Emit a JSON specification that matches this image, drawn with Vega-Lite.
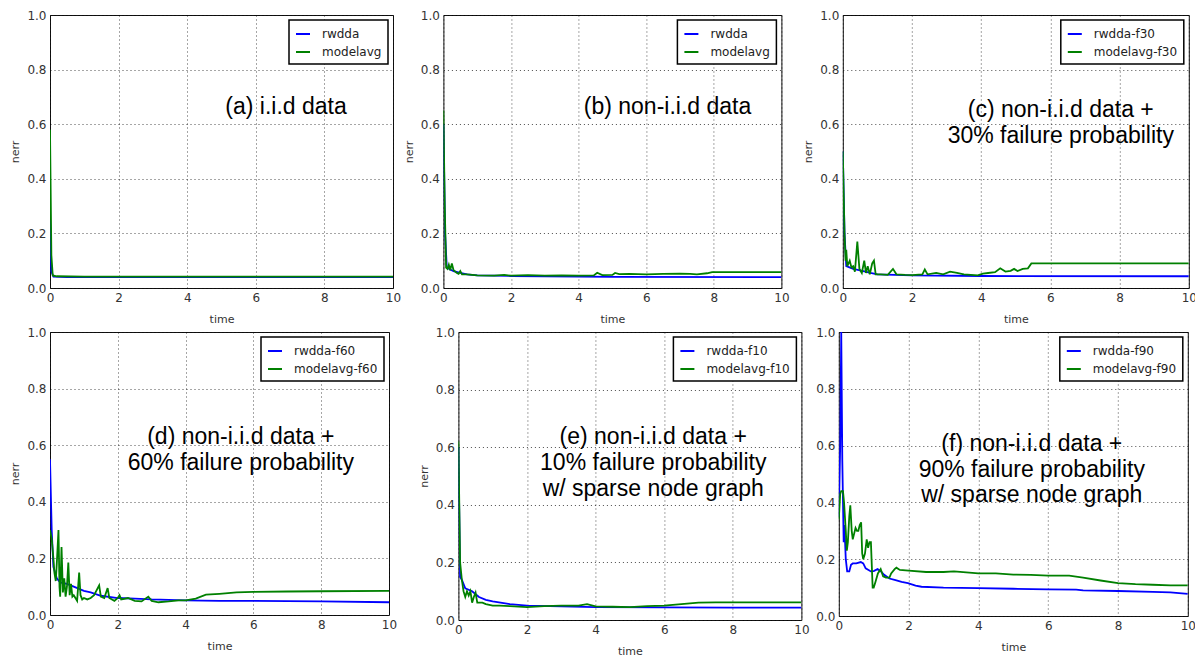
{
"$schema":"https://vega.github.io/schema/vega-lite/v6.json",
"background":"white",
"padding":{"left":9,"top":8,"right":5,"bottom":5},
"config":{
 "view":{"stroke":"#111","strokeWidth":1},
 "axis":{"labelFont":"DejaVu Sans","labelFontSize":12,"labelColor":"#333","titleFont":"DejaVu Sans","titleFontSize":11,"titleFontWeight":"normal","titleColor":"#333","grid":true,"gridColor":"#000","gridDash":[1,3],"gridOpacity":0.7,"gridWidth":1,"domain":false,"ticks":false,"labelPadding":4,"labelFlush":false,"labelOverlap":false,"titlePadding":6},
 "axisX":{"titlePadding":10},
 "legend":{"orient":"top-right","offset":5,"title":null,"strokeColor":"#000","strokeWidth":1.5,"fillColor":"#fff","padding":6,"rowPadding":4,"symbolType":"stroke","symbolStrokeWidth":2,"symbolSize":196,"labelFont":"DejaVu Sans","labelFontSize":12,"labelColor":"#222","labelOffset":11}
},
"datasets":{
"notes":[
 {"p":"a","t":6.88,"v":0.639,"text":"(a) i.i.d data"},
 {"p":"b","t":6.63,"v":0.639,"text":"(b) non-i.i.d data"},
 {"p":"c","t":6.3,"v":0.626,"text":"(c) non-i.i.d data +"},
 {"p":"c","t":6.3,"v":0.532,"text":"30% failure probability"},
 {"p":"d","t":5.63,"v":0.604,"text":"(d) non-i.i.d data +"},
 {"p":"d","t":5.63,"v":0.513,"text":"60% failure probability"},
 {"p":"e","t":5.68,"v":0.61,"text":"(e) non-i.i.d data +"},
 {"p":"e","t":5.68,"v":0.521,"text":"10% failure probability"},
 {"p":"e","t":5.68,"v":0.432,"text":"w/ sparse node graph"},
 {"p":"f","t":5.53,"v":0.58,"text":"(f) non-i.i.d data +"},
 {"p":"f","t":5.53,"v":0.49,"text":"90% failure probability"},
 {"p":"f","t":5.53,"v":0.4,"text":"w/ sparse node graph"}
],
"lines":[
 {"p":"a","s":"rwdda","t":0,"v":0.25},{"p":"a","s":"rwdda","t":0.04,"v":0.06},{"p":"a","s":"rwdda","t":0.1,"v":0.042},{"p":"a","s":"rwdda","t":0.5,"v":0.04},{"p":"a","s":"rwdda","t":5,"v":0.04},{"p":"a","s":"rwdda","t":10,"v":0.04},
 {"p":"a","s":"modelavg","t":0,"v":0.58},{"p":"a","s":"modelavg","t":0.04,"v":0.12},{"p":"a","s":"modelavg","t":0.08,"v":0.046},{"p":"a","s":"modelavg","t":0.2,"v":0.043},{"p":"a","s":"modelavg","t":1,"v":0.042},{"p":"a","s":"modelavg","t":10,"v":0.042},

 {"p":"b","s":"rwdda","t":0,"v":0.6},{"p":"b","s":"rwdda","t":0.05,"v":0.2},{"p":"b","s":"rwdda","t":0.1,"v":0.075},{"p":"b","s":"rwdda","t":0.2,"v":0.068},{"p":"b","s":"rwdda","t":0.3,"v":0.062},{"p":"b","s":"rwdda","t":0.5,"v":0.055},{"p":"b","s":"rwdda","t":0.7,"v":0.05},{"p":"b","s":"rwdda","t":1,"v":0.046},{"p":"b","s":"rwdda","t":2,"v":0.044},{"p":"b","s":"rwdda","t":3,"v":0.043},{"p":"b","s":"rwdda","t":5,"v":0.041},{"p":"b","s":"rwdda","t":10,"v":0.04},
 {"p":"b","s":"modelavg","t":0,"v":0.65},{"p":"b","s":"modelavg","t":0.04,"v":0.3},{"p":"b","s":"modelavg","t":0.08,"v":0.075},{"p":"b","s":"modelavg","t":0.12,"v":0.07},{"p":"b","s":"modelavg","t":0.16,"v":0.085},{"p":"b","s":"modelavg","t":0.2,"v":0.065},{"p":"b","s":"modelavg","t":0.25,"v":0.09},{"p":"b","s":"modelavg","t":0.3,"v":0.065},{"p":"b","s":"modelavg","t":0.4,"v":0.055},{"p":"b","s":"modelavg","t":0.45,"v":0.052},{"p":"b","s":"modelavg","t":0.5,"v":0.062},{"p":"b","s":"modelavg","t":0.55,"v":0.05},{"p":"b","s":"modelavg","t":0.7,"v":0.05},{"p":"b","s":"modelavg","t":1,"v":0.046},{"p":"b","s":"modelavg","t":1.5,"v":0.045},{"p":"b","s":"modelavg","t":1.8,"v":0.048},{"p":"b","s":"modelavg","t":2,"v":0.045},{"p":"b","s":"modelavg","t":2.5,"v":0.047},{"p":"b","s":"modelavg","t":3,"v":0.045},{"p":"b","s":"modelavg","t":3.5,"v":0.046},{"p":"b","s":"modelavg","t":4,"v":0.045},{"p":"b","s":"modelavg","t":4.45,"v":0.046},{"p":"b","s":"modelavg","t":4.55,"v":0.056},{"p":"b","s":"modelavg","t":4.7,"v":0.047},{"p":"b","s":"modelavg","t":5,"v":0.048},{"p":"b","s":"modelavg","t":5.08,"v":0.055},{"p":"b","s":"modelavg","t":5.2,"v":0.051},{"p":"b","s":"modelavg","t":5.5,"v":0.052},{"p":"b","s":"modelavg","t":6,"v":0.05},{"p":"b","s":"modelavg","t":6.5,"v":0.052},{"p":"b","s":"modelavg","t":7,"v":0.053},{"p":"b","s":"modelavg","t":7.3,"v":0.052},{"p":"b","s":"modelavg","t":7.5,"v":0.05},{"p":"b","s":"modelavg","t":7.8,"v":0.054},{"p":"b","s":"modelavg","t":7.95,"v":0.058},{"p":"b","s":"modelavg","t":10,"v":0.058},

 {"p":"c","s":"rwdda-f30","t":0,"v":0.5},{"p":"c","s":"rwdda-f30","t":0.05,"v":0.2},{"p":"c","s":"rwdda-f30","t":0.1,"v":0.08},{"p":"c","s":"rwdda-f30","t":0.3,"v":0.07},{"p":"c","s":"rwdda-f30","t":0.5,"v":0.065},{"p":"c","s":"rwdda-f30","t":0.8,"v":0.055},{"p":"c","s":"rwdda-f30","t":1,"v":0.05},{"p":"c","s":"rwdda-f30","t":2,"v":0.046},{"p":"c","s":"rwdda-f30","t":4,"v":0.044},{"p":"c","s":"rwdda-f30","t":10,"v":0.043},
 {"p":"c","s":"modelavg-f30","t":0,"v":0.5},{"p":"c","s":"modelavg-f30","t":0.05,"v":0.2},{"p":"c","s":"modelavg-f30","t":0.08,"v":0.1},{"p":"c","s":"modelavg-f30","t":0.1,"v":0.14},{"p":"c","s":"modelavg-f30","t":0.13,"v":0.08},{"p":"c","s":"modelavg-f30","t":0.2,"v":0.1},{"p":"c","s":"modelavg-f30","t":0.25,"v":0.075},{"p":"c","s":"modelavg-f30","t":0.3,"v":0.08},{"p":"c","s":"modelavg-f30","t":0.35,"v":0.06},{"p":"c","s":"modelavg-f30","t":0.42,"v":0.17},{"p":"c","s":"modelavg-f30","t":0.48,"v":0.07},{"p":"c","s":"modelavg-f30","t":0.55,"v":0.055},{"p":"c","s":"modelavg-f30","t":0.62,"v":0.1},{"p":"c","s":"modelavg-f30","t":0.67,"v":0.055},{"p":"c","s":"modelavg-f30","t":0.72,"v":0.08},{"p":"c","s":"modelavg-f30","t":0.78,"v":0.05},{"p":"c","s":"modelavg-f30","t":0.85,"v":0.09},{"p":"c","s":"modelavg-f30","t":0.9,"v":0.1},{"p":"c","s":"modelavg-f30","t":0.95,"v":0.05},{"p":"c","s":"modelavg-f30","t":1.1,"v":0.05},{"p":"c","s":"modelavg-f30","t":1.3,"v":0.048},{"p":"c","s":"modelavg-f30","t":1.45,"v":0.07},{"p":"c","s":"modelavg-f30","t":1.55,"v":0.05},{"p":"c","s":"modelavg-f30","t":1.8,"v":0.048},{"p":"c","s":"modelavg-f30","t":2,"v":0.047},{"p":"c","s":"modelavg-f30","t":2.3,"v":0.05},{"p":"c","s":"modelavg-f30","t":2.37,"v":0.068},{"p":"c","s":"modelavg-f30","t":2.45,"v":0.05},{"p":"c","s":"modelavg-f30","t":2.7,"v":0.055},{"p":"c","s":"modelavg-f30","t":2.9,"v":0.05},{"p":"c","s":"modelavg-f30","t":3.1,"v":0.06},{"p":"c","s":"modelavg-f30","t":3.3,"v":0.055},{"p":"c","s":"modelavg-f30","t":3.5,"v":0.05},{"p":"c","s":"modelavg-f30","t":3.7,"v":0.048},{"p":"c","s":"modelavg-f30","t":3.9,"v":0.046},{"p":"c","s":"modelavg-f30","t":4.05,"v":0.053},{"p":"c","s":"modelavg-f30","t":4.2,"v":0.055},{"p":"c","s":"modelavg-f30","t":4.4,"v":0.058},{"p":"c","s":"modelavg-f30","t":4.55,"v":0.072},{"p":"c","s":"modelavg-f30","t":4.7,"v":0.06},{"p":"c","s":"modelavg-f30","t":4.85,"v":0.063},{"p":"c","s":"modelavg-f30","t":4.95,"v":0.07},{"p":"c","s":"modelavg-f30","t":5.05,"v":0.062},{"p":"c","s":"modelavg-f30","t":5.2,"v":0.07},{"p":"c","s":"modelavg-f30","t":5.35,"v":0.072},{"p":"c","s":"modelavg-f30","t":5.45,"v":0.09},{"p":"c","s":"modelavg-f30","t":10,"v":0.09},

 {"p":"d","s":"rwdda-f60","t":0,"v":0.55},{"p":"d","s":"rwdda-f60","t":0.05,"v":0.3},{"p":"d","s":"rwdda-f60","t":0.1,"v":0.17},{"p":"d","s":"rwdda-f60","t":0.2,"v":0.13},{"p":"d","s":"rwdda-f60","t":0.3,"v":0.115},{"p":"d","s":"rwdda-f60","t":0.5,"v":0.11},{"p":"d","s":"rwdda-f60","t":0.7,"v":0.1},{"p":"d","s":"rwdda-f60","t":1,"v":0.085},{"p":"d","s":"rwdda-f60","t":1.2,"v":0.08},{"p":"d","s":"rwdda-f60","t":1.5,"v":0.068},{"p":"d","s":"rwdda-f60","t":2,"v":0.06},{"p":"d","s":"rwdda-f60","t":2.5,"v":0.058},{"p":"d","s":"rwdda-f60","t":3,"v":0.055},{"p":"d","s":"rwdda-f60","t":4,"v":0.052},{"p":"d","s":"rwdda-f60","t":5,"v":0.05},{"p":"d","s":"rwdda-f60","t":6,"v":0.05},{"p":"d","s":"rwdda-f60","t":8,"v":0.048},{"p":"d","s":"rwdda-f60","t":10,"v":0.045},
 {"p":"d","s":"modelavg-f60","t":0,"v":0.3},{"p":"d","s":"modelavg-f60","t":0.05,"v":0.27},{"p":"d","s":"modelavg-f60","t":0.1,"v":0.2},{"p":"d","s":"modelavg-f60","t":0.13,"v":0.15},{"p":"d","s":"modelavg-f60","t":0.17,"v":0.12},{"p":"d","s":"modelavg-f60","t":0.2,"v":0.18},{"p":"d","s":"modelavg-f60","t":0.25,"v":0.3},{"p":"d","s":"modelavg-f60","t":0.28,"v":0.1},{"p":"d","s":"modelavg-f60","t":0.3,"v":0.065},{"p":"d","s":"modelavg-f60","t":0.34,"v":0.24},{"p":"d","s":"modelavg-f60","t":0.38,"v":0.08},{"p":"d","s":"modelavg-f60","t":0.42,"v":0.13},{"p":"d","s":"modelavg-f60","t":0.46,"v":0.065},{"p":"d","s":"modelavg-f60","t":0.5,"v":0.1},{"p":"d","s":"modelavg-f60","t":0.54,"v":0.185},{"p":"d","s":"modelavg-f60","t":0.58,"v":0.07},{"p":"d","s":"modelavg-f60","t":0.62,"v":0.11},{"p":"d","s":"modelavg-f60","t":0.66,"v":0.065},{"p":"d","s":"modelavg-f60","t":0.7,"v":0.07},{"p":"d","s":"modelavg-f60","t":0.75,"v":0.06},{"p":"d","s":"modelavg-f60","t":0.8,"v":0.05},{"p":"d","s":"modelavg-f60","t":0.86,"v":0.15},{"p":"d","s":"modelavg-f60","t":0.9,"v":0.07},{"p":"d","s":"modelavg-f60","t":0.95,"v":0.055},{"p":"d","s":"modelavg-f60","t":1,"v":0.06},{"p":"d","s":"modelavg-f60","t":1.1,"v":0.055},{"p":"d","s":"modelavg-f60","t":1.2,"v":0.06},{"p":"d","s":"modelavg-f60","t":1.3,"v":0.07},{"p":"d","s":"modelavg-f60","t":1.45,"v":0.105},{"p":"d","s":"modelavg-f60","t":1.5,"v":0.065},{"p":"d","s":"modelavg-f60","t":1.6,"v":0.06},{"p":"d","s":"modelavg-f60","t":1.7,"v":0.095},{"p":"d","s":"modelavg-f60","t":1.75,"v":0.06},{"p":"d","s":"modelavg-f60","t":1.9,"v":0.05},{"p":"d","s":"modelavg-f60","t":2,"v":0.06},{"p":"d","s":"modelavg-f60","t":2.05,"v":0.07},{"p":"d","s":"modelavg-f60","t":2.1,"v":0.055},{"p":"d","s":"modelavg-f60","t":2.3,"v":0.06},{"p":"d","s":"modelavg-f60","t":2.5,"v":0.05},{"p":"d","s":"modelavg-f60","t":2.7,"v":0.048},{"p":"d","s":"modelavg-f60","t":2.9,"v":0.065},{"p":"d","s":"modelavg-f60","t":3,"v":0.05},{"p":"d","s":"modelavg-f60","t":3.2,"v":0.045},{"p":"d","s":"modelavg-f60","t":3.5,"v":0.048},{"p":"d","s":"modelavg-f60","t":3.8,"v":0.052},{"p":"d","s":"modelavg-f60","t":4,"v":0.052},{"p":"d","s":"modelavg-f60","t":4.3,"v":0.058},{"p":"d","s":"modelavg-f60","t":4.6,"v":0.072},{"p":"d","s":"modelavg-f60","t":5,"v":0.075},{"p":"d","s":"modelavg-f60","t":5.5,"v":0.08},{"p":"d","s":"modelavg-f60","t":6,"v":0.082},{"p":"d","s":"modelavg-f60","t":7,"v":0.083},{"p":"d","s":"modelavg-f60","t":8,"v":0.084},{"p":"d","s":"modelavg-f60","t":10,"v":0.085},

 {"p":"e","s":"rwdda-f10","t":0,"v":0.6},{"p":"e","s":"rwdda-f10","t":0.05,"v":0.15},{"p":"e","s":"rwdda-f10","t":0.1,"v":0.14},{"p":"e","s":"rwdda-f10","t":0.2,"v":0.11},{"p":"e","s":"rwdda-f10","t":0.4,"v":0.1},{"p":"e","s":"rwdda-f10","t":0.6,"v":0.08},{"p":"e","s":"rwdda-f10","t":0.8,"v":0.07},{"p":"e","s":"rwdda-f10","t":1,"v":0.065},{"p":"e","s":"rwdda-f10","t":1.5,"v":0.055},{"p":"e","s":"rwdda-f10","t":2,"v":0.05},{"p":"e","s":"rwdda-f10","t":3,"v":0.047},{"p":"e","s":"rwdda-f10","t":4,"v":0.045},{"p":"e","s":"rwdda-f10","t":6,"v":0.044},{"p":"e","s":"rwdda-f10","t":8,"v":0.043},{"p":"e","s":"rwdda-f10","t":10,"v":0.043},
 {"p":"e","s":"modelavg-f10","t":0,"v":0.62},{"p":"e","s":"modelavg-f10","t":0.05,"v":0.2},{"p":"e","s":"modelavg-f10","t":0.1,"v":0.14},{"p":"e","s":"modelavg-f10","t":0.15,"v":0.1},{"p":"e","s":"modelavg-f10","t":0.2,"v":0.08},{"p":"e","s":"modelavg-f10","t":0.25,"v":0.1},{"p":"e","s":"modelavg-f10","t":0.3,"v":0.085},{"p":"e","s":"modelavg-f10","t":0.35,"v":0.1},{"p":"e","s":"modelavg-f10","t":0.4,"v":0.06},{"p":"e","s":"modelavg-f10","t":0.45,"v":0.08},{"p":"e","s":"modelavg-f10","t":0.5,"v":0.095},{"p":"e","s":"modelavg-f10","t":0.55,"v":0.06},{"p":"e","s":"modelavg-f10","t":0.7,"v":0.06},{"p":"e","s":"modelavg-f10","t":0.8,"v":0.055},{"p":"e","s":"modelavg-f10","t":1,"v":0.05},{"p":"e","s":"modelavg-f10","t":1.2,"v":0.05},{"p":"e","s":"modelavg-f10","t":1.5,"v":0.048},{"p":"e","s":"modelavg-f10","t":2,"v":0.045},{"p":"e","s":"modelavg-f10","t":2.5,"v":0.048},{"p":"e","s":"modelavg-f10","t":3,"v":0.05},{"p":"e","s":"modelavg-f10","t":3.5,"v":0.05},{"p":"e","s":"modelavg-f10","t":3.75,"v":0.055},{"p":"e","s":"modelavg-f10","t":4,"v":0.047},{"p":"e","s":"modelavg-f10","t":4.5,"v":0.046},{"p":"e","s":"modelavg-f10","t":5,"v":0.045},{"p":"e","s":"modelavg-f10","t":5.5,"v":0.048},{"p":"e","s":"modelavg-f10","t":6,"v":0.05},{"p":"e","s":"modelavg-f10","t":6.5,"v":0.055},{"p":"e","s":"modelavg-f10","t":7,"v":0.06},{"p":"e","s":"modelavg-f10","t":7.5,"v":0.061},{"p":"e","s":"modelavg-f10","t":8,"v":0.061},{"p":"e","s":"modelavg-f10","t":10,"v":0.061},

 {"p":"f","s":"rwdda-f90","t":0,"v":0.35},{"p":"f","s":"rwdda-f90","t":0.04,"v":0.6},{"p":"f","s":"rwdda-f90","t":0.07,"v":1.0},{"p":"f","s":"rwdda-f90","t":0.1,"v":0.55},{"p":"f","s":"rwdda-f90","t":0.13,"v":0.33},{"p":"f","s":"rwdda-f90","t":0.14,"v":0.26},{"p":"f","s":"rwdda-f90","t":0.16,"v":0.32},{"p":"f","s":"rwdda-f90","t":0.18,"v":0.26},{"p":"f","s":"rwdda-f90","t":0.2,"v":0.2},{"p":"f","s":"rwdda-f90","t":0.24,"v":0.157},{"p":"f","s":"rwdda-f90","t":0.3,"v":0.157},{"p":"f","s":"rwdda-f90","t":0.35,"v":0.18},{"p":"f","s":"rwdda-f90","t":0.4,"v":0.185},{"p":"f","s":"rwdda-f90","t":0.5,"v":0.185},{"p":"f","s":"rwdda-f90","t":0.63,"v":0.19},{"p":"f","s":"rwdda-f90","t":0.7,"v":0.185},{"p":"f","s":"rwdda-f90","t":0.77,"v":0.168},{"p":"f","s":"rwdda-f90","t":0.92,"v":0.157},{"p":"f","s":"rwdda-f90","t":1,"v":0.158},{"p":"f","s":"rwdda-f90","t":1.11,"v":0.165},{"p":"f","s":"rwdda-f90","t":1.2,"v":0.158},{"p":"f","s":"rwdda-f90","t":1.3,"v":0.145},{"p":"f","s":"rwdda-f90","t":1.45,"v":0.132},{"p":"f","s":"rwdda-f90","t":1.6,"v":0.127},{"p":"f","s":"rwdda-f90","t":1.8,"v":0.12},{"p":"f","s":"rwdda-f90","t":1.98,"v":0.116},{"p":"f","s":"rwdda-f90","t":2.2,"v":0.107},{"p":"f","s":"rwdda-f90","t":2.37,"v":0.103},{"p":"f","s":"rwdda-f90","t":3,"v":0.1},{"p":"f","s":"rwdda-f90","t":4,"v":0.098},{"p":"f","s":"rwdda-f90","t":5,"v":0.096},{"p":"f","s":"rwdda-f90","t":6,"v":0.094},{"p":"f","s":"rwdda-f90","t":6.8,"v":0.093},{"p":"f","s":"rwdda-f90","t":7,"v":0.09},{"p":"f","s":"rwdda-f90","t":8,"v":0.088},{"p":"f","s":"rwdda-f90","t":9,"v":0.085},{"p":"f","s":"rwdda-f90","t":9.5,"v":0.083},{"p":"f","s":"rwdda-f90","t":10,"v":0.078},
 {"p":"f","s":"modelavg-f90","t":0,"v":0.34},{"p":"f","s":"modelavg-f90","t":0.04,"v":0.43},{"p":"f","s":"modelavg-f90","t":0.07,"v":0.44},{"p":"f","s":"modelavg-f90","t":0.12,"v":0.44},{"p":"f","s":"modelavg-f90","t":0.15,"v":0.4},{"p":"f","s":"modelavg-f90","t":0.2,"v":0.3},{"p":"f","s":"modelavg-f90","t":0.23,"v":0.23},{"p":"f","s":"modelavg-f90","t":0.26,"v":0.26},{"p":"f","s":"modelavg-f90","t":0.3,"v":0.35},{"p":"f","s":"modelavg-f90","t":0.33,"v":0.39},{"p":"f","s":"modelavg-f90","t":0.37,"v":0.3},{"p":"f","s":"modelavg-f90","t":0.4,"v":0.27},{"p":"f","s":"modelavg-f90","t":0.44,"v":0.29},{"p":"f","s":"modelavg-f90","t":0.48,"v":0.31},{"p":"f","s":"modelavg-f90","t":0.52,"v":0.3},{"p":"f","s":"modelavg-f90","t":0.56,"v":0.3},{"p":"f","s":"modelavg-f90","t":0.6,"v":0.32},{"p":"f","s":"modelavg-f90","t":0.64,"v":0.33},{"p":"f","s":"modelavg-f90","t":0.67,"v":0.22},{"p":"f","s":"modelavg-f90","t":0.7,"v":0.2},{"p":"f","s":"modelavg-f90","t":0.75,"v":0.22},{"p":"f","s":"modelavg-f90","t":0.8,"v":0.27},{"p":"f","s":"modelavg-f90","t":0.84,"v":0.24},{"p":"f","s":"modelavg-f90","t":0.88,"v":0.26},{"p":"f","s":"modelavg-f90","t":0.92,"v":0.26},{"p":"f","s":"modelavg-f90","t":0.97,"v":0.1},{"p":"f","s":"modelavg-f90","t":1,"v":0.1},{"p":"f","s":"modelavg-f90","t":1.05,"v":0.12},{"p":"f","s":"modelavg-f90","t":1.12,"v":0.15},{"p":"f","s":"modelavg-f90","t":1.2,"v":0.165},{"p":"f","s":"modelavg-f90","t":1.27,"v":0.14},{"p":"f","s":"modelavg-f90","t":1.35,"v":0.135},{"p":"f","s":"modelavg-f90","t":1.45,"v":0.135},{"p":"f","s":"modelavg-f90","t":1.5,"v":0.15},{"p":"f","s":"modelavg-f90","t":1.6,"v":0.165},{"p":"f","s":"modelavg-f90","t":1.65,"v":0.17},{"p":"f","s":"modelavg-f90","t":1.75,"v":0.162},{"p":"f","s":"modelavg-f90","t":2,"v":0.16},{"p":"f","s":"modelavg-f90","t":2.5,"v":0.155},{"p":"f","s":"modelavg-f90","t":3,"v":0.155},{"p":"f","s":"modelavg-f90","t":3.3,"v":0.157},{"p":"f","s":"modelavg-f90","t":4,"v":0.15},{"p":"f","s":"modelavg-f90","t":4.5,"v":0.15},{"p":"f","s":"modelavg-f90","t":5,"v":0.146},{"p":"f","s":"modelavg-f90","t":5.5,"v":0.145},{"p":"f","s":"modelavg-f90","t":6,"v":0.142},{"p":"f","s":"modelavg-f90","t":6.6,"v":0.142},{"p":"f","s":"modelavg-f90","t":7,"v":0.135},{"p":"f","s":"modelavg-f90","t":7.5,"v":0.125},{"p":"f","s":"modelavg-f90","t":8,"v":0.116},{"p":"f","s":"modelavg-f90","t":8.5,"v":0.112},{"p":"f","s":"modelavg-f90","t":9,"v":0.11},{"p":"f","s":"modelavg-f90","t":9.5,"v":0.108},{"p":"f","s":"modelavg-f90","t":10,"v":0.108}
]
},
"spacing":0,
"resolve":{"scale":{"color":"independent"},"legend":{"color":"independent"}},
"vconcat":[
 {"spacing":0.4,"resolve":{"scale":{"color":"independent"},"legend":{"color":"independent"}},
  "hconcat":[
  {"width":343,"height":273,"layer":[
   {"data":{"name":"lines"},"transform":[{"filter":"datum.p==='a'"}],"mark":{"type":"line","strokeWidth":1.8,"clip":true},
    "encoding":{"x":{"field":"t","type":"quantitative","scale":{"domain":[0,10],"nice":false},"axis":{"title":"time","values":[0,2,4,6,8,10]}},
     "y":{"field":"v","type":"quantitative","scale":{"domain":[0,1],"nice":false},"axis":{"title":"nerr","values":[0,0.2,0.4,0.6,0.8,1],"format":".1f"}},
     "color":{"field":"s","type":"nominal","scale":{"domain":["rwdda","modelavg"],"range":["#0000ff","#008000"]}}}},
   {"data":{"name":"notes"},"transform":[{"filter":"datum.p==='a'"}],"mark":{"type":"text","font":"Liberation Sans","fontSize":23,"baseline":"alphabetic","align":"center","color":"#000"},
    "encoding":{"x":{"field":"t","type":"quantitative"},"y":{"field":"v","type":"quantitative"},"text":{"field":"text"}}}
  ]},
  {"spacing":11.4,"resolve":{"scale":{"color":"independent"},"legend":{"color":"independent"}},
   "hconcat":[
   {"width":338,"height":273,"layer":[
    {"data":{"name":"lines"},"transform":[{"filter":"datum.p==='b'"}],"mark":{"type":"line","strokeWidth":1.8,"clip":true},
     "encoding":{"x":{"field":"t","type":"quantitative","scale":{"domain":[0,10],"nice":false},"axis":{"title":"time","values":[0,2,4,6,8,10]}},
      "y":{"field":"v","type":"quantitative","scale":{"domain":[0,1],"nice":false},"axis":{"title":"nerr","values":[0,0.2,0.4,0.6,0.8,1],"format":".1f"}},
      "color":{"field":"s","type":"nominal","scale":{"domain":["rwdda","modelavg"],"range":["#0000ff","#008000"]}}}},
    {"data":{"name":"notes"},"transform":[{"filter":"datum.p==='b'"}],"mark":{"type":"text","font":"Liberation Sans","fontSize":23,"baseline":"alphabetic","align":"center","color":"#000"},
     "encoding":{"x":{"field":"t","type":"quantitative"},"y":{"field":"v","type":"quantitative"},"text":{"field":"text"}}}
   ]},
   {"width":346,"height":273,"layer":[
    {"data":{"name":"lines"},"transform":[{"filter":"datum.p==='c'"}],"mark":{"type":"line","strokeWidth":1.8,"clip":true},
     "encoding":{"x":{"field":"t","type":"quantitative","scale":{"domain":[0,10],"nice":false},"axis":{"title":"time","values":[0,2,4,6,8,10]}},
      "y":{"field":"v","type":"quantitative","scale":{"domain":[0,1],"nice":false},"axis":{"title":"nerr","values":[0,0.2,0.4,0.6,0.8,1],"format":".1f"}},
      "color":{"field":"s","type":"nominal","scale":{"domain":["rwdda-f30","modelavg-f30"],"range":["#0000ff","#008000"]}}}},
    {"data":{"name":"notes"},"transform":[{"filter":"datum.p==='c'"}],"mark":{"type":"text","font":"Liberation Sans","fontSize":23,"baseline":"alphabetic","align":"center","color":"#000"},
     "encoding":{"x":{"field":"t","type":"quantitative"},"y":{"field":"v","type":"quantitative"},"text":{"field":"text"}}}
   ]}
  ]}
 ]},
 {"spacing":19.4,"resolve":{"scale":{"color":"independent"},"legend":{"color":"independent"}},
  "hconcat":[
  {"width":339,"height":283,"layer":[
   {"data":{"name":"lines"},"transform":[{"filter":"datum.p==='d'"}],"mark":{"type":"line","strokeWidth":1.8,"clip":true},
    "encoding":{"x":{"field":"t","type":"quantitative","scale":{"domain":[0,10],"nice":false},"axis":{"title":"time","values":[0,2,4,6,8,10]}},
     "y":{"field":"v","type":"quantitative","scale":{"domain":[0,1],"nice":false},"axis":{"title":"nerr","values":[0,0.2,0.4,0.6,0.8,1],"format":".1f"}},
     "color":{"field":"s","type":"nominal","scale":{"domain":["rwdda-f60","modelavg-f60"],"range":["#0000ff","#008000"]}}}},
   {"data":{"name":"notes"},"transform":[{"filter":"datum.p==='d'"}],"mark":{"type":"text","font":"Liberation Sans","fontSize":23,"baseline":"alphabetic","align":"center","color":"#000"},
    "encoding":{"x":{"field":"t","type":"quantitative"},"y":{"field":"v","type":"quantitative"},"text":{"field":"text"}}}
  ]},
  {"spacing":4.4,"resolve":{"scale":{"color":"independent"},"legend":{"color":"independent"}},
   "hconcat":[
   {"width":343,"height":288,"layer":[
    {"data":{"name":"lines"},"transform":[{"filter":"datum.p==='e'"}],"mark":{"type":"line","strokeWidth":1.8,"clip":true},
     "encoding":{"x":{"field":"t","type":"quantitative","scale":{"domain":[0,10],"nice":false},"axis":{"title":"time","values":[0,2,4,6,8,10]}},
      "y":{"field":"v","type":"quantitative","scale":{"domain":[0,1],"nice":false},"axis":{"title":"nerr","values":[0,0.2,0.4,0.6,0.8,1],"format":".1f"}},
      "color":{"field":"s","type":"nominal","scale":{"domain":["rwdda-f10","modelavg-f10"],"range":["#0000ff","#008000"]}}}},
    {"data":{"name":"notes"},"transform":[{"filter":"datum.p==='e'"}],"mark":{"type":"text","font":"Liberation Sans","fontSize":23,"baseline":"alphabetic","align":"center","color":"#000"},
     "encoding":{"x":{"field":"t","type":"quantitative"},"y":{"field":"v","type":"quantitative"},"text":{"field":"text"}}}
   ]},
   {"width":349,"height":284,"layer":[
    {"data":{"name":"lines"},"transform":[{"filter":"datum.p==='f'"}],"mark":{"type":"line","strokeWidth":1.8,"clip":true},
     "encoding":{"x":{"field":"t","type":"quantitative","scale":{"domain":[0,10],"nice":false},"axis":{"title":"time","values":[0,2,4,6,8,10]}},
      "y":{"field":"v","type":"quantitative","scale":{"domain":[0,1],"nice":false},"axis":{"title":null,"values":[0,0.2,0.4,0.6,0.8,1],"format":".1f"}},
      "color":{"field":"s","type":"nominal","scale":{"domain":["rwdda-f90","modelavg-f90"],"range":["#0000ff","#008000"]}}}},
    {"data":{"name":"notes"},"transform":[{"filter":"datum.p==='f'"}],"mark":{"type":"text","font":"Liberation Sans","fontSize":23,"baseline":"alphabetic","align":"center","color":"#000"},
     "encoding":{"x":{"field":"t","type":"quantitative"},"y":{"field":"v","type":"quantitative"},"text":{"field":"text"}}}
   ]}
  ]}
 ]}
]
}
